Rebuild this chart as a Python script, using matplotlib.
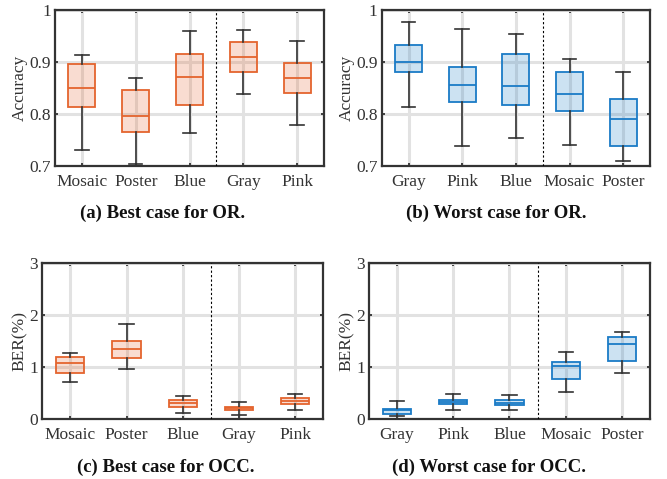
import matplotlib
matplotlib.use("Agg")
import matplotlib.pyplot as plt

plt.rcParams['font.family'] = ['Liberation Serif', 'DejaVu Serif']

# five-number summaries: low whisker, Q1, median, Q3, high whisker
cats_a = ["Mosaic", "Poster", "Blue", "Gray", "Pink"]
low_a = [0.731, 0.704, 0.764, 0.839, 0.779]
q1_a = [0.813, 0.765, 0.817, 0.880, 0.840]
med_a = [0.850, 0.797, 0.871, 0.909, 0.870]
q3_a = [0.897, 0.846, 0.915, 0.938, 0.899]
high_a = [0.913, 0.870, 0.960, 0.962, 0.940]

cats_b = ["Gray", "Pink", "Blue", "Mosaic", "Poster"]
low_b = [0.814, 0.738, 0.754, 0.740, 0.709]
q1_b = [0.880, 0.823, 0.817, 0.806, 0.738]
med_b = [0.900, 0.855, 0.853, 0.839, 0.790]
q3_b = [0.932, 0.890, 0.915, 0.880, 0.829]
high_b = [0.976, 0.964, 0.953, 0.906, 0.880]

cats_c = ["Mosaic", "Poster", "Blue", "Gray", "Pink"]
low_c = [0.71, 0.97, 0.11, 0.08, 0.17]
q1_c = [0.89, 1.18, 0.23, 0.17, 0.29]
med_c = [1.07, 1.35, 0.31, 0.21, 0.35]
q3_c = [1.20, 1.49, 0.37, 0.24, 0.40]
high_c = [1.26, 1.82, 0.44, 0.33, 0.48]

cats_d = ["Gray", "Pink", "Blue", "Mosaic", "Poster"]
low_d = [0.06, 0.17, 0.18, 0.51, 0.89]
q1_d = [0.10, 0.28, 0.26, 0.76, 1.12]
med_d = [0.17, 0.32, 0.31, 1.01, 1.45]
q3_d = [0.20, 0.37, 0.36, 1.10, 1.57]
high_d = [0.35, 0.48, 0.46, 1.29, 1.68]

orange = "#E4642E"
orange_fill = (0.894, 0.392, 0.180, 0.22)
blue = "#1A7BC6"
blue_fill = (0.102, 0.482, 0.776, 0.22)

fig = plt.figure(figsize=(6.67, 4.79), dpi=100)


def panel(rect, cats, low, q1, med, q3, high, edge, fill, ylim, yticks, yticklabels,
          ylabel, caption, cap_x, cap_y):
    ax = fig.add_axes(rect)
    stats = []
    for i in range(len(cats)):
        stats.append(dict(whislo=low[i], q1=q1[i], med=med[i], q3=q3[i],
                          whishi=high[i], fliers=[]))
    pos = list(range(1, len(cats) + 1))
    ax.bxp(stats, positions=pos, widths=0.5, capwidths=0.25, patch_artist=True,
           showfliers=False,
           boxprops=dict(facecolor=fill, edgecolor=edge, linewidth=1.3),
           medianprops=dict(color=edge, linewidth=1.3),
           whiskerprops=dict(color="#333333", linewidth=1.2),
           capprops=dict(color="#333333", linewidth=1.2), zorder=3)
    ax.axvline(3.5, color="black", linestyle=(0, (2, 2)), linewidth=0.8, zorder=4)
    ax.set_xlim(0.5, len(cats) + 0.5)
    ax.set_ylim(*ylim)
    ax.set_xticks(pos)
    ax.set_xticklabels(cats)
    ax.set_yticks(yticks)
    ax.set_yticklabels(yticklabels)
    ax.grid(True, color="#e2e2e2", linewidth=2.2, zorder=0)
    ax.set_axisbelow(True)
    ax.tick_params(direction="in", length=2.5, width=1.2, color="#222222",
                   labelsize=12.5, labelcolor="#333333", top=True, right=True)
    ax.tick_params(axis="x", pad=6)
    ax.tick_params(axis="y", pad=3)
    for s in ax.spines.values():
        s.set_linewidth(1.6)
        s.set_color("#333333")
    ax.set_ylabel(ylabel, fontsize=12.5, color="#333333", labelpad=1)
    fig.text(cap_x, cap_y, caption, ha="center", va="center",
             fontsize=13.5, fontweight="bold", color="#111111")
    return ax


acc_ticks = [0.7, 0.8, 0.9, 1.0]
acc_labels = ["0.7", "0.8", "0.9", "1"]
ber_ticks = [0, 1, 2, 3]
ber_labels = ["0", "1", "2", "3"]

panel([0.0825, 0.6534, 0.4033, 0.3257], cats_a, low_a, q1_a, med_a, q3_a, high_a,
      orange, orange_fill, (0.7, 1.0), acc_ticks, acc_labels, "Accuracy",
      "(a) Best case for OR.", 0.2444, 0.5553)
panel([0.5723, 0.6534, 0.4022, 0.3257], cats_b, low_b, q1_b, med_b, q3_b, high_b,
      blue, blue_fill, (0.7, 1.0), acc_ticks, acc_labels, "Accuracy",
      "(b) Worst case for OR.", 0.7436, 0.5553)
panel([0.0634, 0.1253, 0.4209, 0.3257], cats_c, low_c, q1_c, med_c, q3_c, high_c,
      orange, orange_fill, (0, 3), ber_ticks, ber_labels, "BER(%)",
      "(c) Best case for OCC.", 0.249, 0.025)
panel([0.5532, 0.1253, 0.4213, 0.3257], cats_d, low_d, q1_d, med_d, q3_d, high_d,
      blue, blue_fill, (0, 3), ber_ticks, ber_labels, "BER(%)",
      "(d) Worst case for OCC.", 0.733, 0.025)

fig.savefig("out.png", dpi=100)
